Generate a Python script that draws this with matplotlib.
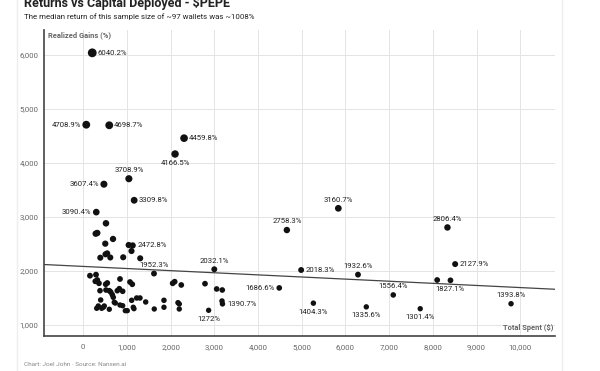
import numpy as np
import matplotlib
matplotlib.use("Agg")
import matplotlib.pyplot as plt
from matplotlib.lines import Line2D

plt.rcParams['font.family'] = ['Roboto', 'DejaVu Sans']

# ---------------- data ----------------
title = "Returns vs Capital Deployed - $PEPE"
subtitle = "The median return of this sample size of ~97 wallets was ~1008%"
footer = "Chart: Joel John \u00b7 Source: Nansen.ai"
x_label = "Total Spent ($)"
y_label = "Realized Gains (%)"

# labelled wallets: total spent ($), realized gains (%), label side
lab_spent = [205, 68, 594, 2306, 2100, 1043, 472, 1164, 297, 1130,
             1618, 2998, 3185, 2868, 4484, 4658, 5836, 4985, 6286, 7093,
             5265, 6476, 7710, 8333, 8509, 8402, 9788]
lab_gain = [6040.2, 4708.9, 4698.7, 4459.8, 4166.5, 3708.9, 3607.4, 3309.8, 3090.4, 2472.8,
            1952.3, 2032.1, 1390.7, 1272, 1686.6, 2758.3, 3160.7, 2018.3, 1932.6, 1556.4,
            1404.3, 1335.6, 1301.4, 2806.4, 2127.9, 1827.1, 1393.8]
lab_side = ['right', 'left', 'right', 'right', 'below', 'above', 'left', 'right', 'left', 'right',
            'above', 'above', 'right', 'below', 'left', 'above', 'above', 'right', 'above', 'above',
            'below', 'below', 'below', 'above', 'right', 'below', 'above']

# unlabelled wallets
spent = [519, 284, 320, 680, 503, 1039, 1103, 389, 508, 547, 618, 913, 1302,
         153, 291, 275, 320, 359, 382, 513, 549, 519, 595, 627, 664, 686, 778, 824,
         840, 901, 1069, 1121, 398, 709, 732, 840, 901, 961, 1007, 1107, 1144, 1160,
         1222, 1297, 1428, 307, 343, 421, 458, 480, 595, 1624, 1846, 1846, 2045, 2091,
         2242, 2167, 2196, 2196, 2785, 3052, 3180, 3174, 8098]
gain = [2883, 2691, 2704, 2593, 2506, 2481, 2370, 2246, 2309, 2326, 2250, 2254, 2235,
        1913, 1932, 1809, 1833, 1772, 1635, 1754, 1778, 1648, 1635, 1611, 1561, 1513, 1635, 1672,
        1852, 1624, 1796, 1754, 1463, 1420, 1407, 1370, 1357, 1265, 1265, 1457, 1328, 1302,
        1500, 1500, 1426, 1309, 1352, 1309, 1328, 1352, 1291, 1296, 1457, 1328, 1772, 1802,
        1741, 1413, 1389, 1296, 1765, 1667, 1648, 1444, 1833]

x_ticks = [0, 1000, 2000, 3000, 4000, 5000, 6000, 7000, 8000, 9000, 10000]
y_ticks = [1000, 2000, 3000, 4000, 5000, 6000]

# ---------------- figure ----------------
W, H = 600, 371
fig = plt.figure(figsize=(W / 100, H / 100), dpi=100)
fig.patch.set_facecolor('white')

ax = fig.add_axes([44 / W, 1 - 336 / H, (555 - 44) / W, (336 - 30) / H])
ax.set_xlim(-899, 10794)
ax.set_ylim(796, 6463)

all_x = np.array(spent + lab_spent, dtype=float)
all_y = np.array(gain + lab_gain, dtype=float)

def msize(g):
    d = 5.4 + (np.asarray(g, dtype=float) - 1300) * 3.4 / 4740
    return (d * 0.72) ** 2

ax.scatter(spent, gain, s=msize(gain), color='#111111', zorder=3, linewidths=0)
ax.scatter(lab_spent, lab_gain, s=msize(lab_gain), color='#111111', zorder=3, linewidths=0)

# trend line (least squares)
k, b = np.polyfit(all_x, all_y, 1)
xl = np.array(ax.get_xlim())
ax.plot(xl, k * xl + b, color='#444444', lw=0.9, zorder=2)

# labels
for xv, yv, side in zip(lab_spent, lab_gain, lab_side):
    txt = f"{yv:g}%"
    kw = dict(fontsize=5.6, color='#222222', zorder=4)
    if side == 'right':
        ax.annotate(txt, (xv, yv), xytext=(3.5, 0), textcoords='offset points', ha='left', va='center', **kw)
    elif side == 'left':
        ax.annotate(txt, (xv, yv), xytext=(-3.5, 0), textcoords='offset points', ha='right', va='center', **kw)
    elif side == 'above':
        ax.annotate(txt, (xv, yv), xytext=(0, 4), textcoords='offset points', ha='center', va='bottom', **kw)
    else:
        ax.annotate(txt, (xv, yv), xytext=(0, -4), textcoords='offset points', ha='center', va='top', **kw)

# axes styling
ax.set_xticks(x_ticks)
ax.set_yticks(y_ticks)
ax.set_xticklabels([f"{v:,}" for v in x_ticks])
ax.set_yticklabels([f"{v:,}" for v in y_ticks])
ax.tick_params(length=0, labelsize=5.6, colors='#666666')
ax.tick_params(axis='x', pad=6)
ax.tick_params(axis='y', pad=4)
ax.grid(True, color='#e4e4e4', lw=0.7, zorder=0)
for s in ['top', 'right']:
    ax.spines[s].set_visible(False)
for s in ['left', 'bottom']:
    ax.spines[s].set_color('#444444')
    ax.spines[s].set_linewidth(1.2)
ax.set_axisbelow(True)

ax.text(0.008, 0.995, y_label, transform=ax.transAxes, ha='left', va='top',
        fontsize=5.4, fontweight='bold', color='#666666')
ax.text(0.996, 0.012, x_label, transform=ax.transAxes, ha='right', va='bottom',
        fontsize=5.4, fontweight='bold', color='#666666')

# titles / footer
fig.text(24 / W, 1 - 7 / H, title, ha='left', va='baseline', fontsize=9, fontweight='bold', color='#222222')
fig.text(24 / W, 1 - 17 / H, subtitle, ha='left', va='center', fontsize=5.7, color='#222222')
fig.text(24 / W, 1 - 364 / H, footer, ha='left', va='center', fontsize=4.6, color='#888888')

# card borders
fig.add_artist(Line2D([17 / W, 17 / W], [0, 1], transform=fig.transFigure, color='#eeeeee', lw=1))
fig.add_artist(Line2D([562 / W, 562 / W], [0, 1], transform=fig.transFigure, color='#eeeeee', lw=1))

fig.savefig('out.png', dpi=100)
